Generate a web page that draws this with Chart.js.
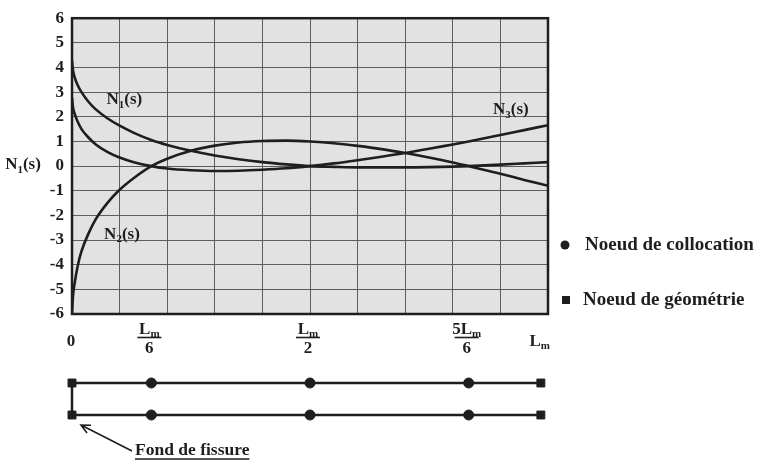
<!DOCTYPE html>
<html>
<head>
<meta charset="utf-8">
<script src="https://cdn.jsdelivr.net/npm/chart.js@4.4.1/dist/chart.umd.min.js"></script>
<style>
  html, body { margin: 0; padding: 0; background: #fff; }
  #wrap { position: relative; width: 760px; height: 466px; }
  #wrap canvas { position: absolute; left: 0; top: 0; }
</style>
</head>
<body>
<div id="wrap">
  <canvas id="shapeChart" width="760" height="466"></canvas>
  <canvas id="nodeChart" width="760" height="466"></canvas>
</div>
<script>
// positions along the element, as a fraction of L_m
const sValues  = [0, 0.002, 0.006, 0.012, 0.02, 0.035, 0.05, 0.075, 0.1, 0.13, 0.1667, 0.2, 0.25, 0.3, 0.35, 0.4, 0.45, 0.5, 0.55, 0.6, 0.65, 0.7, 0.75, 0.8, 0.8333, 0.9, 0.95, 1];
const n1Values = [4.28, 3.9, 3.58, 3.28, 3.0, 2.6, 2.3, 1.93, 1.64, 1.35, 1.06, 0.86, 0.62, 0.43, 0.28, 0.16, 0.07, 0.0, -0.03, -0.05, -0.05, -0.05, -0.04, -0.02, 0.0, 0.06, 0.11, 0.16];
const n2Values = [-6.0, -5.3, -4.7, -4.05, -3.45, -2.72, -2.15, -1.48, -0.96, -0.48, 0.0, 0.3, 0.62, 0.83, 0.96, 1.02, 1.035, 1.0, 0.93, 0.82, 0.69, 0.53, 0.35, 0.15, 0.0, -0.31, -0.56, -0.8];
const n3Values = [2.78, 2.4, 2.1, 1.8, 1.5, 1.15, 0.88, 0.57, 0.35, 0.16, 0.0, -0.1, -0.17, -0.2, -0.19, -0.15, -0.09, 0.0, 0.11, 0.24, 0.38, 0.53, 0.7, 0.88, 1.0, 1.26, 1.46, 1.66];

const yTickValues = [-6, -5, -4, -3, -2, -1, 0, 1, 2, 3, 4, 5, 6];
const xTickPos = [0, 0.1667, 0.5, 0.8333, 1];
const xTickNum = ['0', 'L', 'L', '5L', 'L'];
const xTickDen = ['', '6', '2', '6', ''];

// nodes of the crack element (upper and lower face)
const collocNodes = [0.1667, 0.5, 0.8333];
const geomNodes = [0, 0.985];
const faceRows = [1, 0];

const SERIF = '"Liberation Serif", "DejaVu Serif", serif';
const INK = '#1e1e1e';

// text with a subscript, e.g. N_1(s) ; y is the baseline
function drawSub(ctx, base, sub, tail, x, y, size, align) {
  const big = `bold ${size}px ${SERIF}`;
  const small = `bold ${Math.round(size * 0.62)}px ${SERIF}`;
  ctx.font = big;
  const w1 = ctx.measureText(base).width;
  const w3 = tail ? ctx.measureText(tail).width : 0;
  ctx.font = small;
  const w2 = ctx.measureText(sub).width;
  const total = w1 + w2 + w3;
  let x0 = x - total / 2;
  if (align === 'left') x0 = x;
  if (align === 'right') x0 = x - total;
  ctx.textAlign = 'left';
  ctx.textBaseline = 'alphabetic';
  ctx.font = big;
  ctx.fillText(base, x0, y);
  ctx.font = small;
  ctx.fillText(sub, x0 + w1, y + size * 0.2);
  if (tail) { ctx.font = big; ctx.fillText(tail, x0 + w1 + w2, y); }
}

const shapePlugin = {
  id: 'shapeDecor',
  beforeDraw(chart) {
    const { ctx, chartArea: a } = chart;
    ctx.save();
    ctx.fillStyle = '#e2e2e2';
    ctx.fillRect(a.left, a.top, a.right - a.left, a.bottom - a.top);
    ctx.restore();
  },
  afterDraw(chart) {
    const { ctx, chartArea: a, scales: { x, y } } = chart;
    ctx.save();
    // frame
    ctx.strokeStyle = INK;
    ctx.lineWidth = 2.5;
    ctx.strokeRect(a.left, a.top, a.right - a.left, a.bottom - a.top);

    ctx.fillStyle = INK;
    // x tick labels (fractions of L_m)
    xTickPos.forEach((v, i) => {
      const px = x.getPixelForValue(v);
      const num = xTickNum[i], den = xTickDen[i];
      if (!den) {
        if (num === 'L') drawSub(ctx, 'L', 'm', '', px + 2, 346, 17, 'right');
        else { ctx.font = `bold 17px ${SERIF}`; ctx.textAlign = 'center'; ctx.textBaseline = 'alphabetic'; ctx.fillText(num, px - 1, 346); }
        return;
      }
      const cx = px - 2;
      drawSub(ctx, num, 'm', '', cx, 334, 17, 'center');
      ctx.beginPath();
      ctx.lineWidth = 1.6;
      ctx.moveTo(cx - 12, 337.5);
      ctx.lineTo(cx + 12, 337.5);
      ctx.stroke();
      ctx.font = `bold 17px ${SERIF}`;
      ctx.textAlign = 'center';
      ctx.fillText(den, cx, 353);
    });

    // y axis title
    drawSub(ctx, 'N', '1', '(s)', 23, y.getPixelForValue(0) + 3, 17, 'center');

    // curve labels
    drawSub(ctx, 'N', '1', '(s)', x.getPixelForValue(0.11), y.getPixelForValue(2.5), 17, 'center');
    drawSub(ctx, 'N', '2', '(s)', x.getPixelForValue(0.105), y.getPixelForValue(-2.95), 17, 'center');
    drawSub(ctx, 'N', '3', '(s)', x.getPixelForValue(0.922), y.getPixelForValue(2.1), 17, 'center');

    // legend
    ctx.beginPath();
    ctx.arc(565, 245, 4.5, 0, Math.PI * 2);
    ctx.fill();
    ctx.fillRect(562, 296, 8, 8);
    ctx.font = `bold 19px ${SERIF}`;
    ctx.textAlign = 'left';
    ctx.textBaseline = 'middle';
    ctx.fillText('Noeud de collocation', 585, 245);
    ctx.fillText('Noeud de géométrie', 583, 300);
    ctx.restore();
  }
};

const curveStyle = {
  borderColor: INK,
  borderWidth: 2.6,
  pointRadius: 0,
  cubicInterpolationMode: 'monotone',
  fill: false
};

new Chart(document.getElementById('shapeChart'), {
  type: 'line',
  data: {
    datasets: [
      { label: 'N1(s)', data: sValues.map((s, i) => ({ x: s, y: n1Values[i] })), ...curveStyle },
      { label: 'N2(s)', data: sValues.map((s, i) => ({ x: s, y: n2Values[i] })), ...curveStyle },
      { label: 'N3(s)', data: sValues.map((s, i) => ({ x: s, y: n3Values[i] })), ...curveStyle }
    ]
  },
  options: {
    responsive: false,
    animation: false,
    layout: { padding: { left: 0, top: 13, right: 212, bottom: 152 } },
    plugins: { legend: { display: false }, tooltip: { enabled: false } },
    scales: {
      x: {
        type: 'linear', min: 0, max: 1,
        ticks: { stepSize: 0.1, display: false },
        grid: { color: '#5e5e5e', lineWidth: 1, drawTicks: false },
        border: { display: false },
        afterFit: (s) => { s.height = 0; }
      },
      y: {
        min: -6, max: 6,
        afterBuildTicks: (s) => { s.ticks = yTickValues.map(v => ({ value: v })); },
        ticks: { color: INK, padding: 8, font: { family: SERIF, size: 17, weight: 'bold' } },
        grid: { color: '#5e5e5e', lineWidth: 1, drawTicks: false },
        border: { display: false },
        afterFit: (s) => { s.width = 72; }
      }
    }
  },
  plugins: [shapePlugin]
});

// crack element sketch under the plot
const nodePlugin = {
  id: 'crackTip',
  afterDraw(chart) {
    const { ctx, scales: { x, y } } = chart;
    const tx = x.getPixelForValue(geomNodes[0]) + 9;
    const ty = y.getPixelForValue(faceRows[1]) + 10;
    const fx = tx + 51, fy = ty + 26;
    ctx.save();
    ctx.strokeStyle = INK;
    ctx.lineWidth = 1.6;
    ctx.beginPath();
    ctx.moveTo(fx, fy);
    ctx.lineTo(tx, ty);
    const ang = Math.atan2(fy - ty, fx - tx);
    ctx.moveTo(tx + 10 * Math.cos(ang - 0.45), ty + 10 * Math.sin(ang - 0.45));
    ctx.lineTo(tx, ty);
    ctx.lineTo(tx + 10 * Math.cos(ang + 0.45), ty + 10 * Math.sin(ang + 0.45));
    ctx.stroke();
    ctx.fillStyle = INK;
    ctx.font = `bold 17.5px ${SERIF}`;
    ctx.textAlign = 'left';
    ctx.textBaseline = 'alphabetic';
    const label = 'Fond de fissure';
    const w = ctx.measureText(label).width;
    ctx.fillText(label, fx + 3, fy + 4);
    ctx.lineWidth = 1.3;
    ctx.beginPath();
    ctx.moveTo(fx + 3, fy + 8);
    ctx.lineTo(fx + 3 + w, fy + 8);
    ctx.stroke();
    ctx.restore();
  }
};

const faceLine = (pts) => ({
  data: pts, showLine: true, borderColor: INK, borderWidth: 2.5,
  pointRadius: 0, clip: false
});

new Chart(document.getElementById('nodeChart'), {
  type: 'scatter',
  data: {
    datasets: [
      ...faceRows.map(r => faceLine(geomNodes.map(g => ({ x: g, y: r })))),
      faceLine(faceRows.map(r => ({ x: geomNodes[0], y: r }))),
      {
        label: 'Noeud de collocation',
        data: faceRows.flatMap(r => collocNodes.map(c => ({ x: c, y: r }))),
        pointStyle: 'circle', pointRadius: 5, backgroundColor: INK, borderColor: INK, clip: false
      },
      {
        label: 'Noeud de géométrie',
        data: faceRows.flatMap(r => geomNodes.map(g => ({ x: g, y: r }))),
        pointStyle: 'rect', pointRadius: 5.6, backgroundColor: INK, borderColor: INK, clip: false
      }
    ]
  },
  options: {
    responsive: false,
    animation: false,
    layout: { padding: { left: 72, top: 383, right: 212, bottom: 51 } },
    plugins: { legend: { display: false }, tooltip: { enabled: false } },
    scales: {
      x: { type: 'linear', min: 0, max: 1, display: false },
      y: { min: 0, max: 1, display: false }
    }
  },
  plugins: [nodePlugin]
});
</script>
</body>
</html>
